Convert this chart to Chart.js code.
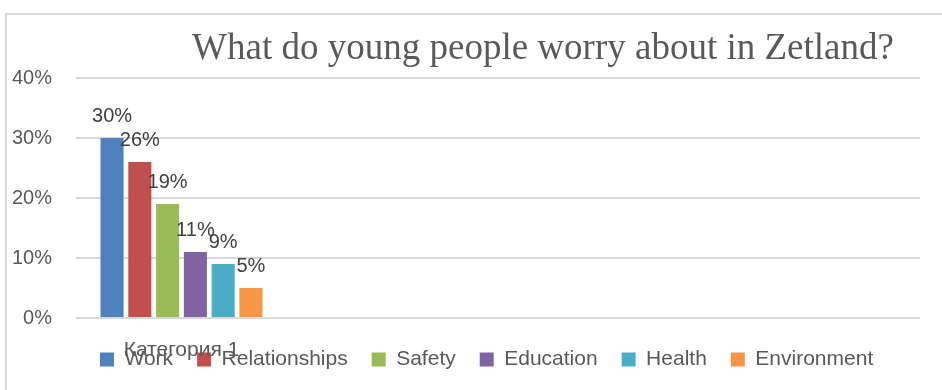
<!DOCTYPE html>
<html>
<head>
<meta charset="utf-8">
<script src="https://cdn.jsdelivr.net/npm/chart.js@4.4.0/dist/chart.umd.min.js"></script>
<style>
  html, body { margin: 0; padding: 0; background: #fff; overflow: hidden; }
  #wrap { position: relative; width: 942px; height: 390px; }
  #frame { position: absolute; left: 5px; top: 13px; width: 960px; height: 400px; border: 2px solid #d9d9d9; box-sizing: border-box; }
  #canvas { position: absolute; left: 0; top: 0; }
</style>
</head>
<body>
<div id="wrap">
  <div id="frame"></div>
  <canvas id="canvas" width="942" height="390"></canvas>
</div>
<script>
/* data */
const chartTitle = 'What do young people worry about in Zetland?';
const categories = ['Категория 1', '', '', ''];
const seriesNames = ['Work', 'Relationships', 'Safety', 'Education', 'Health', 'Environment'];
const work = [30];
const relationships = [26];
const safety = [19];
const education = [11];
const health = [9];
const environment = [5];
const yTicks = [0, 10, 20, 30, 40];

const seriesValues = [work, relationships, safety, education, health, environment];
const colors = ['#4F81BD', '#C0504D', '#9BBB59', '#8064A2', '#4BACC6', '#F79646'];

const FONT = "'Liberation Sans', Arial, sans-serif";

/* title drawn over the plot, like in the excel picture */
const titlePlugin = {
  id: 'bigTitle',
  afterDraw(chart) {
    const ctx = chart.ctx;
    ctx.save();
    ctx.font = "37px 'Liberation Serif', 'Times New Roman', serif";
    ctx.fillStyle = '#595959';
    ctx.textAlign = 'center';
    ctx.textBaseline = 'alphabetic';
    ctx.fillText(chartTitle, 543, 59);
    ctx.restore();
  }
};

/* value labels above each bar */
const valueLabels = {
  id: 'valueLabels',
  afterDatasetsDraw(chart) {
    const ctx = chart.ctx;
    ctx.save();
    ctx.font = '20px ' + FONT;
    ctx.fillStyle = '#404040';
    ctx.textAlign = 'center';
    ctx.textBaseline = 'alphabetic';
    chart.data.datasets.forEach((ds, i) => {
      const meta = chart.getDatasetMeta(i);
      meta.data.forEach((bar, j) => {
        const v = ds.data[j];
        if (v == null) return;
        ctx.fillText(v + '%', bar.x, bar.y - 16);
      });
    });
    ctx.restore();
  }
};

const datasets = seriesNames.map((name, i) => ({
  label: name,
  data: seriesValues[i],
  backgroundColor: colors[i],
  borderWidth: 0,
  categoryPercentage: 0.79,
  barPercentage: 0.83
}));

new Chart(document.getElementById('canvas'), {
  type: 'bar',
  data: { labels: categories, datasets: datasets },
  options: {
    responsive: false,
    animation: false,
    devicePixelRatio: 1,
    layout: { padding: { left: 12, right: 22, top: 78, bottom: 15 } },
    plugins: {
      title: { display: false },
      tooltip: { enabled: false },
      legend: {
        position: 'bottom',
        align: 'start',
        fullSize: false,
        maxHeight: 50,
        labels: {
          boxWidth: 14,
          boxHeight: 14,
          padding: 24,
          color: '#595959',
          font: { family: FONT, size: 21 }
        }
      }
    },
    scales: {
      x: {
        grid: { display: false },
        border: { display: false },
        ticks: {
          color: '#595959',
          padding: 12,
          autoSkip: false,
          maxRotation: 0,
          font: { family: FONT, size: 21 }
        },
        afterFit(scale) {
          // category label sits on top of the legend, so keep the axis thin and don't clip it
          scale.height = 7;
          scale._computeLabelArea = () => undefined;
        }
      },
      y: {
        min: 0,
        max: 40,
        afterBuildTicks(scale) { scale.ticks = yTicks.map(v => ({ value: v })); },
        grid: { color: '#d9d9d9', lineWidth: 2, drawTicks: false },
        border: { display: false },
        ticks: {
          color: '#595959',
          padding: 24,
          font: { family: FONT, size: 20 },
          callback: v => v + '%'
        },
        afterFit(scale) { scale.width = 64; }
      }
    }
  },
  plugins: [titlePlugin, valueLabels]
});
</script>
</body>
</html>
